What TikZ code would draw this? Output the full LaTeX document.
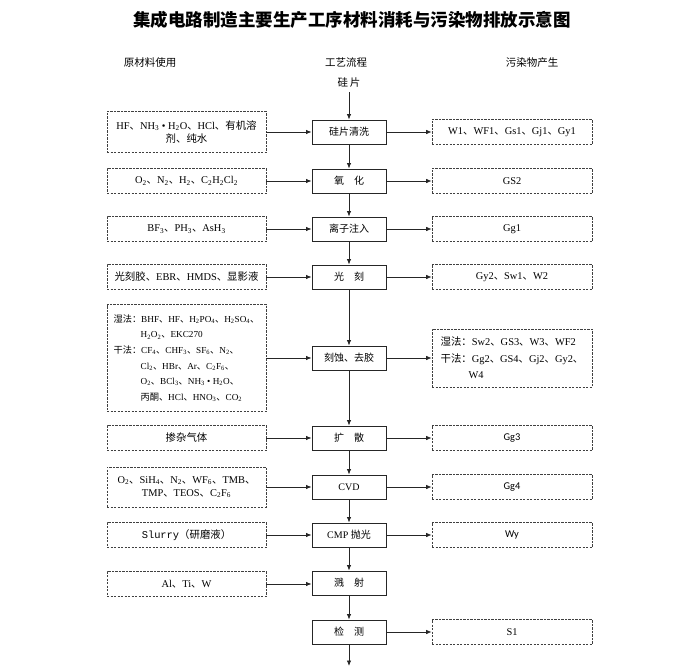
\documentclass[tikz,border=0pt]{standalone}
\usepackage{fontspec}
\setmainfont{Liberation Serif}
\setmonofont{Liberation Mono}
\newfontfamily\cjk{Noto Sans CJK SC}
\newfontfamily\calib{Carlito}
\usetikzlibrary{positioning,arrows.meta}

% CJK characters switch font on their own
\newXeTeXintercharclass\zhcls
\newcount\zhc
\newcommand\zhrange[2]{\zhc=#1 \loop\XeTeXcharclass\zhc=\zhcls\ifnum\zhc<#2 \advance\zhc by 1 \repeat}
\zhrange{"3000}{"303F}
\zhrange{"4E00}{"9FFF}
\zhrange{"FF00}{"FFEF}
\XeTeXinterchartoks 0 \zhcls = {\cjk}
\XeTeXinterchartoks 4095 \zhcls = {\cjk}
\XeTeXinterchartoks \zhcls 0 = {\rmfamily}
\XeTeXinterchartokenstate=1

\newcommand\ts[1]{\textsubscript{#1}}

\tikzset{
  procbox/.style={draw=black!85,line width=0.9pt,minimum width=74pt,minimum height=24pt,inner sep=1pt,font=\fontsize{10}{12}\selectfont},
  matbox/.style={draw=black!75,line width=0.7pt,dash pattern=on 2.2pt off 1.3pt,minimum width=159pt,minimum height=25pt,inner sep=2pt,align=center,font=\fontsize{10.4}{13}\selectfont},
  wastebox/.style={matbox,minimum width=160pt},
  flow/.style={-{Latex[length=5.5pt,width=4.5pt]},line width=0.8pt,draw=black!85}
}

\begin{document}
\begin{tikzpicture}[x=1pt,y=-1pt]
\useasboundingbox (0,0) rectangle (675,666);

\node[font=\fontsize{17.5}{20}\selectfont\bfseries] (title) at (352,20) {集成电路制造主要生产工序材料消耗与污染物排放示意图};
\node[font=\fontsize{10.5}{12}\selectfont] (hmat) at (150,63) {原材料使用};
\node[font=\fontsize{10.5}{12}\selectfont] (hproc) at (346,63) {工艺流程};
\node[font=\fontsize{10.5}{12}\selectfont] (hwaste) at (532,63) {污染物产生};
\node[font=\fontsize{10.5}{12}\selectfont,inner sep=1pt] (wafer) at (349,83) {硅\,片};

% process column
\node[procbox] (p1) at (349,132) {硅片清洗};
\node[procbox] (p2) at (349,181) {氧\quad 化};
\node[procbox] (p3) at (349,229) {离子注入};
\node[procbox] (p4) at (349,277) {光\quad 刻};
\node[procbox] (p5) at (349,358) {刻蚀、去胶};
\node[procbox] (p6) at (349,438) {扩\quad 散};
\node[procbox] (p7) at (349,487) {CVD};
\node[procbox] (p8) at (349,535) {CMP 抛光};
\node[procbox] (p9) at (349,583) {溅\quad 射};
\node[procbox] (p10) at (349,632) {检\quad 测};
\coordinate (out) at (349,666);

% materials
\node[matbox,minimum height=41pt] (m1) at (186.5,132) {HF、NH\ts{3} • H\ts{2}O、HCl、有机溶\\剂、纯水};
\node[matbox] (m2) at (186.5,181) {O\ts{2}、N\ts{2}、H\ts{2}、C\ts{2}H\ts{2}Cl\ts{2}};
\node[matbox] (m3) at (186.5,229) {BF\ts{3}、PH\ts{3}、AsH\ts{3}};
\node[matbox,inner sep=1pt] (m4) at (186.5,277) {光刻胶、EBR、HMDS、显影液};
\node[matbox,minimum height=107pt,align=left,font=\fontsize{9.2}{15.6}\selectfont] (m5) at (186.5,358)
  {湿法：BHF、HF、H\ts{2}PO\ts{4}、H\ts{2}SO\ts{4}、\\
   \hspace*{27pt}H\ts{2}O\ts{2}、EKC270\\
   干法：CF\ts{4}、CHF\ts{3}、SF\ts{6}、N\ts{2}、\\
   \hspace*{27pt}Cl\ts{2}、HBr、Ar、C\ts{2}F\ts{6}、\\
   \hspace*{27pt}O\ts{2}、BCl\ts{3}、NH\ts{3} • H\ts{2}O、\\
   \hspace*{27pt}丙酮、HCl、HNO\ts{3}、CO\ts{2}};
\node[matbox] (m6) at (186.5,438) {掺杂气体};
\node[matbox,minimum height=40pt] (m7) at (186.5,487) {O\ts{2}、SiH\ts{4}、N\ts{2}、WF\ts{6}、TMB、\\TMP、TEOS、C\ts{2}F\ts{6}};
\node[matbox] (m8) at (186.5,535) {\ttfamily Slurry（研磨液）};
\node[matbox] (m9) at (186.5,584) {Al、Ti、W};

% pollutants
\node[wastebox] (w1) at (512,132) {W1、WF1、Gs1、Gj1、Gy1};
\node[wastebox] (w2) at (512,181) {GS2};
\node[wastebox] (w3) at (512,229) {Gg1};
\node[wastebox] (w4) at (512,277) {Gy2、Sw1、W2};
\node[wastebox,minimum height=58pt,align=left,font=\fontsize{10.4}{16.5}\selectfont] (w5) at (512,358)
  {湿法：Sw2、GS3、W3、WF2\\
   干法：Gg2、GS4、Gj2、Gy2、\\
   \hspace*{28pt}W4};
\node[wastebox] (w6) at (512,438) {\calib Gg3};
\node[wastebox] (w7) at (512,487) {\calib Gg4};
\node[wastebox] (w8) at (512,535) {\calib Wy};
\node[wastebox] (w10) at (512,632) {S1};

% connectors
\draw[flow] (wafer.south) ++(0,3) -- (p1.north);
\foreach \a/\b in {p1/p2,p2/p3,p3/p4,p4/p5,p5/p6,p6/p7,p7/p8,p8/p9,p9/p10}
  \draw[flow] (\a.south) -- (\b.north);
\draw[flow] (p10.south) -- (out);
\foreach \i in {1,...,9}
  \draw[flow] (m\i.east) -- (m\i.east -| p\i.west);
\foreach \i in {1,...,8,10}
  \draw[flow] (p\i.east) -- (w\i.west);
\end{tikzpicture}
\end{document}
